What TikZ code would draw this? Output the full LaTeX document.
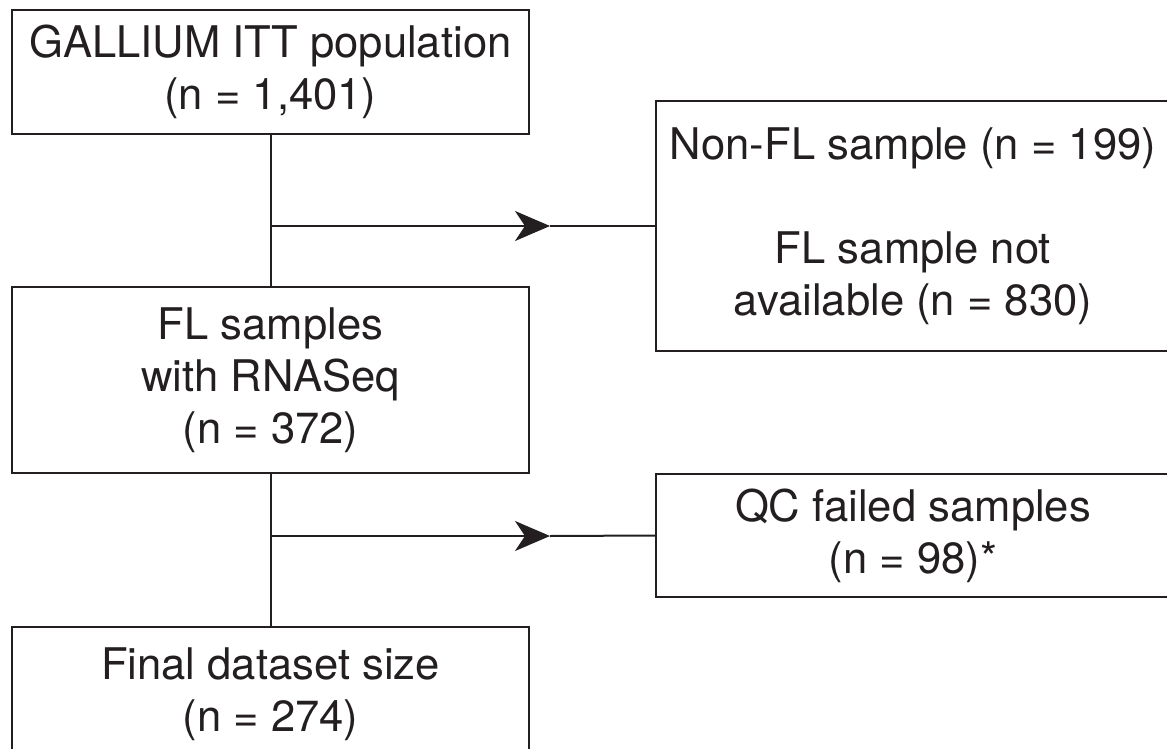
\documentclass[tikz,border=0pt]{standalone}
\usepackage{fontspec}
\setmainfont{TeX Gyre Heros}
\usetikzlibrary{arrows.meta,positioning}
\definecolor{ink}{HTML}{231F20}
\begin{document}
\begin{tikzpicture}[
    x=0.5pt, y=-0.5pt,
    font=\fontsize{21.8}{26}\selectfont,
    box/.style={draw=ink, text=ink, line width=1pt, inner sep=0pt,
                align=center, minimum width=258.5pt},
    side/.style={box, minimum width=257pt},
    flow/.style={-{Stealth[length=17.5pt, width=15pt, inset=5pt]}, draw=ink, fill=ink, line width=1pt},
    link/.style={draw=ink, line width=1pt}
  ]
    \useasboundingbox (0,0) rectangle (1167,749);
    \clip (0,0) rectangle (1167,749);

    \node[box, minimum height=62pt] (itt)   at (270.5,72)  {GALLIUM ITT population\\(n = 1,401)};
    \node[box, minimum height=93pt] (rna)   at (270.5,380) {FL samples\\with RNASeq\\(n = 372)};
    \node[box, minimum height=67pt] (final) at (270.5,694) {Final dataset size\\(n = 274)};

    \node[side, minimum height=125pt] (excl) at (913,226)   {Non-FL sample (n = 199)\\[26pt]FL sample not\\available (n = 830)};
    \node[side, minimum height=61.5pt] (qc)  at (913,535.5) {QC failed samples\\(n = 98)*};

    \coordinate (j1) at (270,226);
    \coordinate (j2) at (270,536);
    \coordinate (a1) at (550,226);
    \coordinate (a2) at (550,536);

    \draw[link] (itt.south) -- (rna.north);
    \draw[link] (rna.south) -- (final.north);
    \draw[flow] (j1) -- (a1);
    \draw[link] (a1) -- (excl.west);
    \draw[flow] (j2) -- (a2);
    \draw[link] (a2) -- (qc.west);
  \end{tikzpicture}
\end{document}
